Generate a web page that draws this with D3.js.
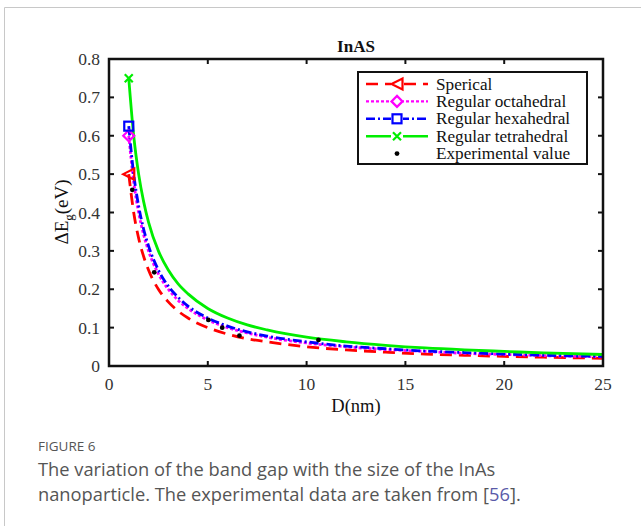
<!DOCTYPE html>
<html>
<head>
<meta charset="utf-8">
<script src="https://cdn.jsdelivr.net/npm/d3@7"></script>
<style>
  html, body { margin: 0; padding: 0; background: #fff; }
  svg { display: block; }
</style>
</head>
<body>
<svg id="fig" width="641" height="526"></svg>
<script>
// Particle size D (nm) at which the model curves are sampled
const sizes = [1, 1.25, 1.5, 1.75, 2, 2.5, 3, 3.5, 4, 5, 6, 7, 8, 10, 12, 14, 16, 18, 20, 22, 25];

// Band gap shift ΔEg (eV) for each particle shape
const spherical   = [0.500, 0.400, 0.333, 0.286, 0.250, 0.200, 0.167, 0.143, 0.125, 0.100, 0.083, 0.071, 0.063, 0.050, 0.042, 0.036, 0.031, 0.028, 0.025, 0.023, 0.020];
const octahedral  = [0.600, 0.480, 0.400, 0.343, 0.300, 0.240, 0.200, 0.171, 0.150, 0.120, 0.100, 0.086, 0.075, 0.060, 0.050, 0.043, 0.038, 0.033, 0.030, 0.027, 0.024];
const hexahedral  = [0.625, 0.500, 0.417, 0.357, 0.313, 0.250, 0.208, 0.179, 0.156, 0.125, 0.104, 0.089, 0.078, 0.063, 0.052, 0.045, 0.039, 0.035, 0.031, 0.028, 0.025];
const tetrahedral = [0.750, 0.600, 0.500, 0.429, 0.375, 0.300, 0.250, 0.214, 0.188, 0.150, 0.125, 0.107, 0.094, 0.075, 0.063, 0.054, 0.047, 0.042, 0.038, 0.034, 0.030];

// Experimental points
const expD  = [1.18, 2.29, 5.03, 5.73, 6.6, 10.6];
const expEg = [0.459, 0.244, 0.120, 0.100, 0.079, 0.068];

const xTicks = [0, 5, 10, 15, 20, 25];
const yTicks = [0, 0.1, 0.2, 0.3, 0.4, 0.5, 0.6, 0.7, 0.8];

const seriesNames = ["Sperical", "Regular octahedral", "Regular hexahedral", "Regular tetrahedral"];
const seriesValues = [spherical, octahedral, hexahedral, tetrahedral];
const seriesColors = ["#ff0000", "#ff00ff", "#0000ff", "#00ee00"];
const seriesDash = ["12,7", "3,2", "9,3,2,3", null];
const seriesMarker = ["triangle", "diamond", "square", "cross"];

const svg = d3.select("#fig");
const serif = "'Liberation Serif', 'Times New Roman', serif";

// card border
svg.append("path")
  .attr("d", "M4.5,526 V7.5 H641")
  .attr("fill", "none").attr("stroke", "#c8c8c8").attr("stroke-width", 1);

const pLeft = 109, pRight = 603, pTop = 59, pBottom = 366;
const x = d3.scaleLinear().domain([0, 25]).range([pLeft, pRight]);
const y = d3.scaleLinear().domain([0, 0.8]).range([pBottom, pTop]);

const plot = svg.append("g");

svg.append("defs").append("clipPath").attr("id", "clip")
  .append("rect").attr("x", pLeft).attr("y", pTop).attr("width", pRight - pLeft).attr("height", pBottom - pTop);

const line = d3.line().x(d => x(d[0])).y(d => y(d[1])).curve(d3.curveMonotoneX);

function drawMarker(g, type, cx, cy, color) {
  const s = 5.5;
  if (type === "triangle") {
    g.append("path").attr("d", `M${cx - s},${cy} L${cx + s},${cy - s} L${cx + s},${cy + s} Z`)
      .attr("fill", "none").attr("stroke", color).attr("stroke-width", 2.2);
  } else if (type === "diamond") {
    g.append("path").attr("d", `M${cx},${cy - s} L${cx + s},${cy} L${cx},${cy + s} L${cx - s},${cy} Z`)
      .attr("fill", "none").attr("stroke", color).attr("stroke-width", 2.2);
  } else if (type === "square") {
    g.append("rect").attr("x", cx - 4.5).attr("y", cy - 4.5).attr("width", 9).attr("height", 9)
      .attr("fill", "none").attr("stroke", color).attr("stroke-width", 2.2);
  } else if (type === "cross") {
    g.append("path").attr("d", `M${cx - 4},${cy - 4} L${cx + 4},${cy + 4} M${cx - 4},${cy + 4} L${cx + 4},${cy - 4}`)
      .attr("fill", "none").attr("stroke", color).attr("stroke-width", 2.2);
  } else if (type === "dot") {
    g.append("circle").attr("cx", cx).attr("cy", cy).attr("r", 2.4).attr("fill", "#000");
  }
}

const curves = plot.append("g").attr("clip-path", "url(#clip)");
seriesValues.forEach((vals, i) => {
  const pts = sizes.map((d, k) => [d, vals[k]]);
  curves.append("path").datum(pts)
    .attr("d", line)
    .attr("fill", "none")
    .attr("stroke", seriesColors[i])
    .attr("stroke-width", 2.8)
    .attr("stroke-dasharray", seriesDash[i]);
  drawMarker(plot, seriesMarker[i], x(sizes[0]), y(vals[0]), seriesColors[i]);
});

expD.forEach((d, k) => drawMarker(plot, "dot", x(d), y(expEg[k]), "#000"));

// axes frame with inward ticks
const frame = svg.append("g");
const tickLen = 5;
xTicks.forEach(t => {
  frame.append("line").attr("x1", x(t)).attr("x2", x(t)).attr("y1", pBottom).attr("y2", pBottom - tickLen)
    .attr("stroke", "#111").attr("stroke-width", 2);
  frame.append("line").attr("x1", x(t)).attr("x2", x(t)).attr("y1", pTop).attr("y2", pTop + tickLen)
    .attr("stroke", "#111").attr("stroke-width", 2);
  frame.append("text").attr("x", x(t)).attr("y", pBottom + 24)
    .attr("text-anchor", "middle").attr("font-family", serif).attr("font-size", 17.5).attr("fill", "#333")
    .text(d3.format("d")(t));
});
yTicks.forEach(t => {
  frame.append("line").attr("x1", pLeft).attr("x2", pLeft + tickLen).attr("y1", y(t)).attr("y2", y(t))
    .attr("stroke", "#111").attr("stroke-width", 2);
  frame.append("line").attr("x1", pRight).attr("x2", pRight - tickLen).attr("y1", y(t)).attr("y2", y(t))
    .attr("stroke", "#111").attr("stroke-width", 2);
  frame.append("text").attr("x", pLeft - 9).attr("y", y(t) + 6)
    .attr("text-anchor", "end").attr("font-family", serif).attr("font-size", 17.5).attr("fill", "#333")
    .text(t === 0 ? "0" : d3.format(".1f")(t));
});
frame.append("rect").attr("x", pLeft).attr("y", pTop).attr("width", pRight - pLeft).attr("height", pBottom - pTop)
  .attr("fill", "none").attr("stroke", "#111").attr("stroke-width", 2.5);

// title and axis labels
svg.append("text").attr("x", (pLeft + pRight) / 2).attr("y", 52)
  .attr("text-anchor", "middle").attr("font-family", serif).attr("font-size", 17).attr("font-weight", "bold")
  .attr("fill", "#111").text("InAS");
svg.append("text").attr("x", (pLeft + pRight) / 2).attr("y", 412)
  .attr("text-anchor", "middle").attr("font-family", serif).attr("font-size", 18.5).attr("fill", "#111")
  .text("D(nm)");
const yl = svg.append("text").attr("transform", "translate(68,212) rotate(-90)")
  .attr("text-anchor", "middle").attr("font-family", serif).attr("font-size", 19).attr("fill", "#111");
yl.append("tspan").text("ΔE");
yl.append("tspan").attr("dy", 5).attr("font-size", 13).text("g");
yl.append("tspan").attr("dy", -5).text("(eV)");

// legend
const lg = svg.append("g");
const lgX = 358, lgY = 72, lgW = 229, lgH = 92, rowH = 17.4;
lg.append("rect").attr("x", lgX).attr("y", lgY).attr("width", lgW).attr("height", lgH)
  .attr("fill", "#fff").attr("stroke", "#111").attr("stroke-width", 2);
const names = seriesNames.concat(["Experimental value"]);
names.forEach((nm, i) => {
  const ry = lgY + 12 + i * rowH;
  if (i < 4) {
    lg.append("line").attr("x1", 366).attr("x2", 428).attr("y1", ry).attr("y2", ry)
      .attr("stroke", seriesColors[i]).attr("stroke-width", 2.4)
      .attr("stroke-dasharray", seriesDash[i]);
    const mg = lg.append("g");
    mg.append("rect").attr("x", 391).attr("y", ry - 6).attr("width", 12).attr("height", 12).attr("fill", "#fff");
    drawMarker(mg, seriesMarker[i], 397, ry, seriesColors[i]);
  } else {
    drawMarker(lg, "dot", 397, ry, "#000");
  }
  lg.append("text").attr("x", 436).attr("y", ry + 5.5)
    .attr("font-family", serif).attr("font-size", 17.2).attr("fill", "#111").text(nm);
});

// caption
const sans = "'Open Sans', 'Noto Sans', sans-serif";
svg.append("text").attr("x", 38).attr("y", 451)
  .attr("font-family", sans).attr("font-size", 13.5).attr("fill", "#555").text("FIGURE 6");
svg.append("text").attr("x", 38).attr("y", 476)
  .attr("font-family", sans).attr("font-size", 18.3).attr("fill", "#555")
  .text("The variation of the band gap with the size of the InAs");
const cap2 = svg.append("text").attr("x", 38).attr("y", 501)
  .attr("font-family", sans).attr("font-size", 18.3).attr("fill", "#555");
cap2.append("tspan").text("nanoparticle. The experimental data are taken from [");
cap2.append("tspan").attr("fill", "#5a5aa8").text("56");
cap2.append("tspan").text("].");
</script>
</body>
</html>
